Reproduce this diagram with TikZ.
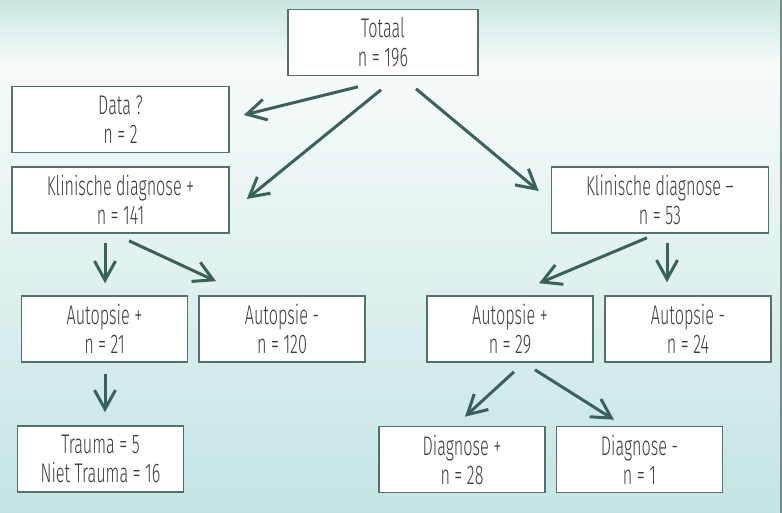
\documentclass[tikz,border=0pt]{standalone}
\usepackage{fontspec}
\setmainfont{Fira Sans Light}[FakeStretch=0.6]
\usetikzlibrary{arrows.meta}

\definecolor{bgtop}{RGB}{200,230,226}
\definecolor{bgwhite}{RGB}{247,251,250}
\definecolor{bgbottom}{RGB}{196,228,228}
\definecolor{boxline}{RGB}{84,112,107}
\definecolor{arrowcol}{RGB}{58,98,90}
\definecolor{txt}{RGB}{60,60,60}

\tikzset{
    box/.style={draw=boxline, line width=0.8pt, fill=white, text=txt,
        align=center, minimum width=83pt, minimum height=33pt,
        inner sep=0pt, font=\fontsize{13.5}{14.5}\selectfont},
    widebox/.style={box, minimum width=108.5pt},
    arr/.style={draw=arrowcol, line width=1.5pt,
        -{Straight Barb[length=9.5pt,width=10.5pt,line width=1.5pt]}}
}

\begin{document}
\begin{tikzpicture}[x=0.5pt, y=-0.5pt]
    \useasboundingbox (0,0) rectangle (782,513);
    % background
    \shade[top color=bgtop, bottom color=bgwhite] (0,0) rectangle (782,64);
    \shade[top color=bgwhite, bottom color=bgbottom] (0,64) rectangle (782,513);
    \draw[boxline!80, line width=0.6pt] (781,0) -- (781,513);

    % top level
    \node[box, minimum width=95pt] (tot) at (383,42.5) {Totaal\\n = 196};
    \node[widebox] (data) at (120.5,119.5) {Data ?\\n = 2};
    \node[widebox] (kplus) at (120.5,200) {Klinische diagnose +\\n = 141};
    \node[widebox] (kmin) at (660,200) {Klinische diagnose --\\n = 53};

    % autopsie
    \node[box] (apl) at (104.5,329) {Autopsie +\\n = 21};
    \node[box] (aml) at (282,329) {Autopsie -\\n = 120};
    \node[box] (apr) at (510,329) {Autopsie +\\n = 29};
    \node[box] (amr) at (688,329) {Autopsie -\\n = 24};

    % bottom level
    \node[box] (trauma) at (100.5,459) {Trauma = 5\\Niet Trauma = 16};
    \node[box] (dp) at (462,459.5) {Diagnose +\\n = 28};
    \node[box] (dm) at (639.5,459.5) {Diagnose -\\n = 1};

    % arrows
    \draw[arr] ([shift={(-25,10.5)}]tot.south) -- ([shift={(14,-4.5)}]data.east);
    \draw[arr] ([shift={(-2,13.5)}]tot.south) -- ([shift={(17,-1)}]kplus.east);
    \draw[arr] ([shift={(33,12.5)}]tot.south) -- ([shift={(-12,-9)}]kmin.west);
    \draw[arr] ([shift={(-15.5,9)}]kplus.south) -- ([shift={(0.5,-12)}]apl.north);
    \draw[arr] ([shift={(8.5,7)}]kplus.south) -- ([shift={(-66,-14)}]aml.north);
    \draw[arr] ([shift={(-13,4)}]kmin.south) -- ([shift={(29,-12)}]apr.north);
    \draw[arr] ([shift={(7,9)}]kmin.south) -- ([shift={(-21,-13)}]amr.north);
    \draw[arr] ([shift={(0.5,11)}]apl.south) -- ([shift={(4.5,-13)}]trauma.north);
    \draw[arr] ([shift={(4,9)}]apr.south) -- ([shift={(3,-9)}]dp.north);
    \draw[arr] ([shift={(25,7)}]apr.south) -- ([shift={(-25.5,-6)}]dm.north);
\end{tikzpicture}
\end{document}
